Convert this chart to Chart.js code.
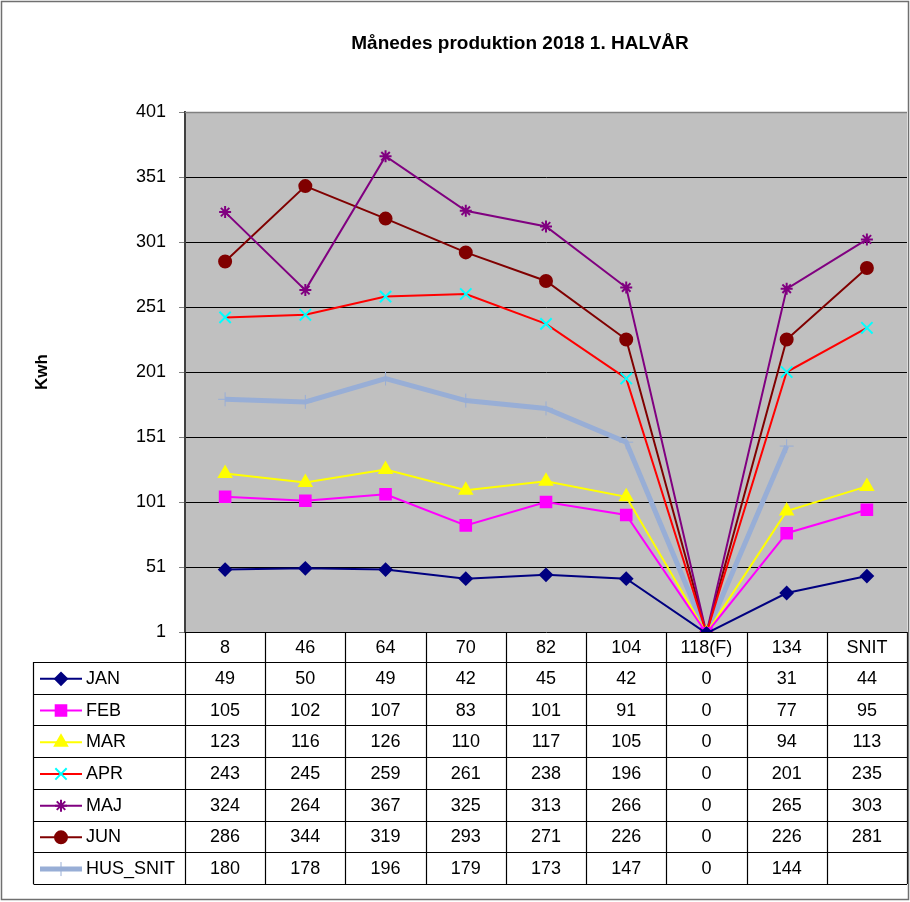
<!DOCTYPE html>
<html>
<head>
<meta charset="utf-8">
<script src="https://cdn.jsdelivr.net/npm/chart.js@4.4.1/dist/chart.umd.min.js"></script>
<style>
  html, body { margin: 0; padding: 0; background: #fff; }
  canvas { display: block; }
</style>
</head>
<body>
<canvas id="prodChart" width="910" height="902"></canvas>
<script>
const categories = ["8", "46", "64", "70", "82", "104", "118(F)", "134", "SNIT"];
const jan = [49, 50, 49, 42, 45, 42, 0, 31, 44];
const feb = [105, 102, 107, 83, 101, 91, 0, 77, 95];
const mar = [123, 116, 126, 110, 117, 105, 0, 94, 113];
const apr = [243, 245, 259, 261, 238, 196, 0, 201, 235];
const maj = [324, 264, 367, 325, 313, 266, 0, 265, 303];
const jun = [286, 344, 319, 293, 271, 226, 0, 226, 281];
const husSnit = [180, 178, 196, 179, 173, 147, 0, 144, null];
const yTicks = [1, 51, 101, 151, 201, 251, 301, 351, 401];

const FONT = "'Liberation Sans', Arial, sans-serif";

function series(label, data, line, marker, style, radius, width) {
  return {
    label: label,
    data: data,
    borderColor: line,
    backgroundColor: marker,
    pointBackgroundColor: marker,
    pointBorderColor: marker,
    pointStyle: style,
    pointRadius: radius,
    pointBorderWidth: style === "cross" ? 1 : 2,
    borderWidth: width,
    tension: 0,
    clip: 0
  };
}

const datasets = [
  series("JAN", jan, "#000080", "#000080", "rectRot", 6, 2),
  series("FEB", feb, "#FF00FF", "#FF00FF", "rect", 7.5, 2),
  series("MAR", mar, "#FFFF00", "#FFFF00", "triangle", 7, 2),
  series("APR", apr, "#FF0000", "#00FFFF", "crossRot", 8, 2),
  series("MAJ", maj, "#800080", "#800080", "star", 6, 2),
  series("JUN", jun, "#800000", "#800000", "circle", 6, 2),
  series("HUS_SNIT", husSnit, "#98AED6", "#98AED6", "cross", 7, 5)
];

// gray plot background, title, axis title, data table, frame
const decor = {
  id: "decor",
  beforeDraw(chart) {
    const ctx = chart.ctx;
    const a = chart.chartArea;
    ctx.save();
    ctx.fillStyle = "#fff";
    ctx.fillRect(0, 0, chart.width, chart.height);
    ctx.fillStyle = "#C0C0C0";
    ctx.fillRect(a.left, a.top, a.right - a.left, a.bottom - a.top);
    ctx.restore();
  },
  afterDraw(chart) {
    const ctx = chart.ctx;
    const a = chart.chartArea;
    const xs = chart.scales.x;
    const colW = (a.right - a.left) / categories.length;
    const headH = 30;
    const rowH = 31.7;
    const tableLeft = 33.5;
    const rows = chart.data.datasets.length;
    const tableBottom = a.bottom + headH + rows * rowH;

    ctx.save();
    // title
    ctx.fillStyle = "#000";
    ctx.font = "bold 19px " + FONT;
    ctx.textAlign = "center";
    ctx.textBaseline = "middle";
    ctx.fillText("Månedes produktion 2018 1. HALVÅR", 520, 44);

    // y axis title
    ctx.save();
    ctx.translate(42, 372);
    ctx.rotate(-Math.PI / 2);
    ctx.font = "bold 17px " + FONT;
    ctx.fillText("Kwh", 0, 0);
    ctx.restore();

    // plot top edge
    ctx.strokeStyle = "#808080";
    ctx.lineWidth = 1.5;
    ctx.beginPath();
    ctx.moveTo(a.left, a.top + 0.5);
    ctx.lineTo(a.right, a.top + 0.5);
    ctx.stroke();

    // table grid
    ctx.strokeStyle = "#000";
    ctx.lineWidth = 1.2;
    ctx.beginPath();
    for (let i = 0; i <= categories.length; i++) {
      const x = Math.round(a.left + i * colW) + 0.5;
      ctx.moveTo(x, a.bottom);
      ctx.lineTo(x, tableBottom);
    }
    for (let r = 0; r <= rows; r++) {
      const y = Math.round(a.bottom + headH + r * rowH) + 0.5;
      ctx.moveTo(tableLeft, y);
      ctx.lineTo(a.right, y);
    }
    ctx.moveTo(tableLeft, a.bottom + headH);
    ctx.lineTo(tableLeft, tableBottom);
    ctx.stroke();

    // header labels
    ctx.font = "18px " + FONT;
    ctx.fillStyle = "#000";
    categories.forEach((c, i) => {
      ctx.fillText(c, xs.getPixelForValue(i), a.bottom + headH / 2 + 1);
    });

    // rows: legend key + values
    chart.data.datasets.forEach((ds, r) => {
      const cy = a.bottom + headH + r * rowH + rowH / 2 + 1;
      ctx.strokeStyle = ds.borderColor;
      ctx.lineWidth = ds.borderWidth;
      ctx.beginPath();
      ctx.moveTo(40, cy);
      ctx.lineTo(82, cy);
      ctx.stroke();
      ctx.fillStyle = ds.pointBackgroundColor;
      ctx.strokeStyle = ds.pointBorderColor;
      ctx.lineWidth = ds.pointBorderWidth;
      Chart.helpers.drawPoint(ctx, {
        pointStyle: ds.pointStyle,
        radius: ds.pointRadius,
        rotation: 0,
        borderWidth: ds.pointBorderWidth
      }, 61, cy);

      ctx.fillStyle = "#000";
      ctx.textAlign = "left";
      ctx.fillText(ds.label, 86, cy);
      ctx.textAlign = "center";
      ds.data.forEach((v, i) => {
        if (v === null) return;
        ctx.fillText(String(v), xs.getPixelForValue(i), cy);
      });
    });

    // outer frame
    ctx.strokeStyle = "#707070";
    ctx.lineWidth = 1.5;
    ctx.strokeRect(1.5, 1.5, 907, 898);
    ctx.restore();
  }
};

new Chart(document.getElementById("prodChart"), {
  type: "line",
  data: { labels: categories, datasets: datasets },
  options: {
    responsive: false,
    animation: false,
    devicePixelRatio: 1,
    layout: {
      autoPadding: false,
      padding: { left: 0, top: 112, right: 3, bottom: 270 }
    },
    plugins: {
      legend: { display: false },
      tooltip: { enabled: false }
    },
    scales: {
      x: {
        type: "category",
        offset: true,
        display: false
      },
      y: {
        min: 1,
        max: 401,
        afterBuildTicks(axis) {
          axis.ticks = yTicks.map(v => ({ value: v }));
        },
        afterFit(axis) {
          axis.width = 185;
        },
        ticks: {
          color: "#000",
          padding: 13,
          font: { family: FONT, size: 18 }
        },
        grid: {
          color: "#000",
          lineWidth: 1,
          tickColor: "#808080",
          tickLength: 6,
          drawTicks: true
        },
        border: { display: true, color: "#404040", width: 2 }
      }
    }
  },
  plugins: [decor]
});
</script>
</body>
</html>
